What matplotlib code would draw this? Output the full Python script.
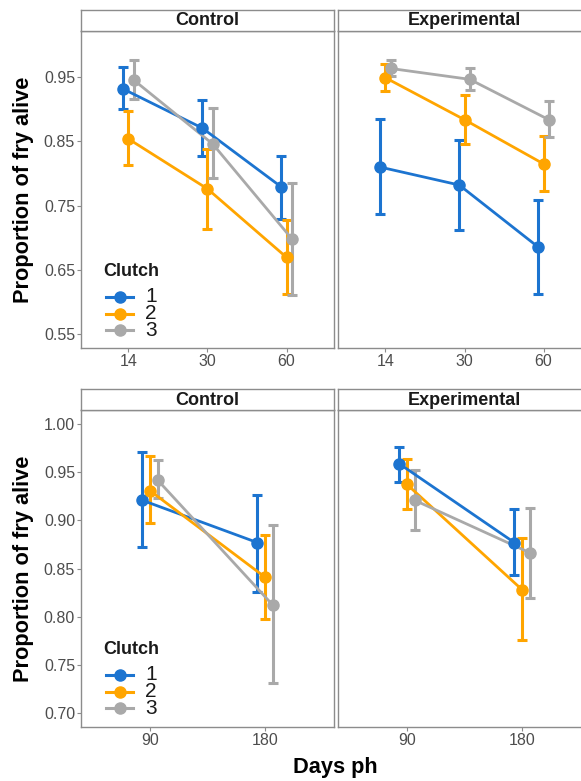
import matplotlib
matplotlib.use('Agg')
import matplotlib.pyplot as plt
from matplotlib.patches import Rectangle

plt.rcParams['font.family'] = ['Liberation Sans', 'DejaVu Sans']

clutches = ['1', '2', '3']
colors = ['#1C74D0', '#FFA500', '#A9A9A9']

# early sampling days (top row)
days_early = ['14', '30', '60']
ctrl_early_mean = [[0.932, 0.871, 0.779], [0.854, 0.776, 0.669], [0.946, 0.846, 0.698]]
ctrl_early_lo = [[0.900, 0.827, 0.729], [0.8125, 0.714, 0.612], [0.916, 0.793, 0.610]]
ctrl_early_hi = [[0.966, 0.915, 0.828], [0.898, 0.839, 0.727], [0.977, 0.902, 0.785]]
exp_early_mean = [[0.810, 0.782, 0.685], [0.9495, 0.884, 0.815], [0.964, 0.947, 0.884]]
exp_early_lo = [[0.736, 0.711, 0.612], [0.929, 0.846, 0.772], [0.952, 0.931, 0.857]]
exp_early_hi = [[0.885, 0.853, 0.759], [0.971, 0.922, 0.859], [0.977, 0.964, 0.913]]

# late sampling days (bottom row)
days_late = ['90', '180']
ctrl_late_mean = [[0.921, 0.877], [0.931, 0.841], [0.942, 0.812]]
ctrl_late_lo = [[0.872, 0.826], [0.897, 0.797], [0.923, 0.731]]
ctrl_late_hi = [[0.971, 0.927], [0.967, 0.885], [0.963, 0.895]]
exp_late_mean = [[0.959, 0.877], [0.9375, 0.828], [0.921, 0.8665]]
exp_late_lo = [[0.940, 0.843], [0.912, 0.776], [0.890, 0.8195]]
exp_late_hi = [[0.976, 0.912], [0.9635, 0.882], [0.953, 0.913]]

W, H = 581, 781
fig = plt.figure(figsize=(W / 100, H / 100), dpi=100)

border = '#8C8C8C'
tickcol = '#4D4D4D'


def box(x0, y0, x1, y1):
    # pixel box (top-left origin) -> figure fraction rect
    return [x0 / W, 1 - y1 / H, (x1 - x0) / W, (y1 - y0) / H]


def panel(x0, x1, y0, y1, strip_top, title, days, mean, lo, hi, ylim, yticks, ylabels):
    ax = fig.add_axes(box(x0, y0, x1, y1))
    n = len(days)
    offs = [-0.0667, 0, 0.0667]
    for g in range(3):
        xs = [i + 1 + offs[g] for i in range(n)]
        yerr = [[m - l for m, l in zip(mean[g], lo[g])],
                [h - m for m, h in zip(mean[g], hi[g])]]
        ax.errorbar(xs, mean[g], yerr=yerr, fmt='none', ecolor=colors[g],
                    elinewidth=2.2, capsize=3.6, capthick=2.2, zorder=2 + g)
    for g in range(3):
        xs = [i + 1 + offs[g] for i in range(n)]
        ax.plot(xs, mean[g], '-', color=colors[g], lw=2.0, zorder=5 + g)
        ax.plot(xs, mean[g], 'o', color=colors[g], ms=8, zorder=8 + g)
    ax.set_xlim(0.4, n + 0.6)
    ax.set_ylim(*ylim)
    ax.set_xticks(range(1, n + 1))
    ax.set_xticklabels(days)
    ax.set_yticks(yticks)
    if ylabels:
        ax.set_yticklabels(ylabels)
    else:
        ax.tick_params(axis='y', left=False, labelleft=False)
    ax.tick_params(colors=border, labelcolor=tickcol, labelsize=11.5,
                   length=2.8, width=0.8, pad=1.5)
    for s in ax.spines.values():
        s.set_color(border)
        s.set_linewidth(1.0)
    # facet strip
    sx = fig.add_axes(box(x0, strip_top, x1, y0))
    sx.set_xticks([])
    sx.set_yticks([])
    for s in sx.spines.values():
        s.set_color(border)
        s.set_linewidth(1.0)
    sx.text(0.5, 0.47, title, ha='center', va='center', fontsize=13,
            fontweight='bold', color='#1A1A1A', transform=sx.transAxes)
    return ax


def legend(x, ytitle):
    fig.text(x / W, 1 - ytitle / H, 'Clutch', ha='left', va='center',
             fontsize=13, fontweight='bold', color='#1A1A1A')
    for g, lab in enumerate(clutches):
        yy = 1 - (ytitle + 25 + g * 16.5) / H
        fig.lines.append(plt.Line2D([(x + 3) / W, (x + 30) / W], [yy, yy],
                                    color=colors[g], lw=2.2, transform=fig.transFigure))
        fig.lines.append(plt.Line2D([(x + 16.5) / W], [yy], marker='o', ms=8,
                                    color=colors[g], transform=fig.transFigure))
        fig.text((x + 42) / W, yy, lab, ha='left', va='center', fontsize=15,
                 color='#1A1A1A')


top_ticks = [0.55, 0.65, 0.75, 0.85, 0.95]
top_lab = ['0.55', '0.65', '0.75', '0.85', '0.95']
bot_ticks = [0.70, 0.75, 0.80, 0.85, 0.90, 0.95, 1.00]
bot_lab = ['0.70', '0.75', '0.80', '0.85', '0.90', '0.95', '1.00']

panel(81, 334, 31, 348, 9.5, 'Control', days_early, ctrl_early_mean, ctrl_early_lo,
      ctrl_early_hi, (0.5275, 1.0225), top_ticks, top_lab)
panel(338, 591, 31, 348, 9.5, 'Experimental', days_early, exp_early_mean, exp_early_lo,
      exp_early_hi, (0.5275, 1.0225), top_ticks, None)
panel(81, 334, 410, 727, 389, 'Control', days_late, ctrl_late_mean, ctrl_late_lo,
      ctrl_late_hi, (0.685, 1.015), bot_ticks, bot_lab)
panel(338, 591, 410, 727, 389, 'Experimental', days_late, exp_late_mean, exp_late_lo,
      exp_late_hi, (0.685, 1.015), bot_ticks, None)

legend(103, 272)
legend(103, 650)

fig.text(23.5 / W, 1 - 190 / H, 'Proportion of fry alive', rotation=90, ha='center',
         va='center', fontsize=15.7, fontweight='bold', color='black')
fig.text(23.5 / W, 1 - 569 / H, 'Proportion of fry alive', rotation=90, ha='center',
         va='center', fontsize=15.7, fontweight='bold', color='black')
fig.text(335.5 / W, 1 - 768 / H, 'Days ph', ha='center', va='center',
         fontsize=15.7, fontweight='bold', color='black')

fig.savefig('out.png', dpi=100)
